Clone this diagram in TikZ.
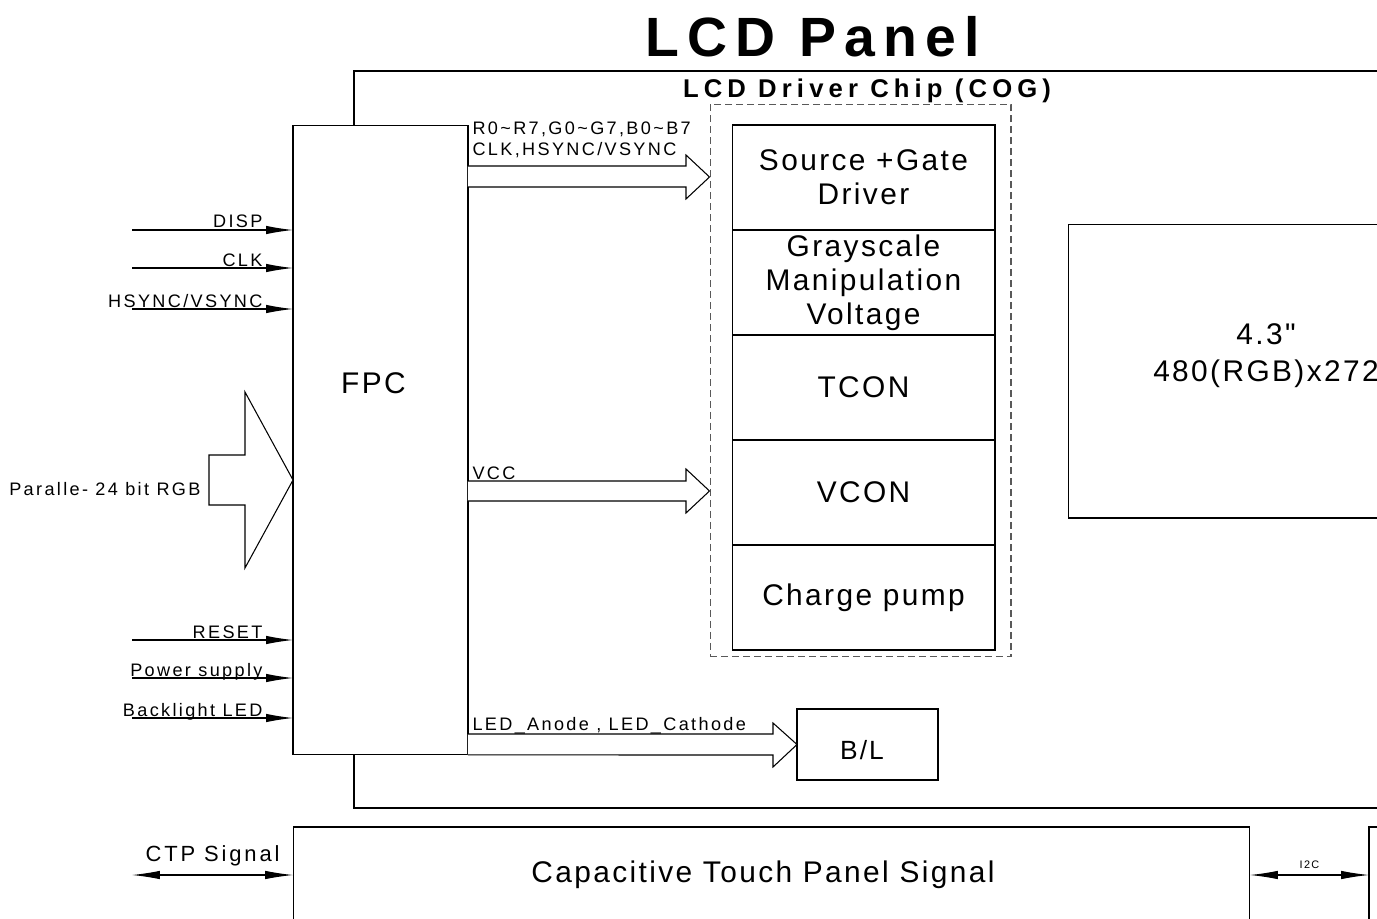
\documentclass[tikz,border=0pt]{standalone}
\usepackage{fontspec}
\usepackage{tikz}
\usetikzlibrary{arrows.meta}
\setmainfont{Liberation Sans}
\newfontfamily\lblfont[LetterSpace=13]{Liberation Sans}
\newfontfamily\boxfont[LetterSpace=8]{Liberation Sans}
\newfontfamily\headfont[LetterSpace=15]{Liberation Sans}
\newfontfamily\chipfont[LetterSpace=20]{Liberation Sans}

\begin{document}
\begin{tikzpicture}
	[x=0.02cm, y=-0.02cm, line width=0.6pt,
	block/.style={draw, fill=white, inner sep=0pt, outer sep=0pt},
	chip row/.style={block, minimum width=5.26cm, minimum height=2.1cm, align=center, font=\boxfont\fontsize{17}{19.3}\selectfont},
	sig/.style={-{Latex[length=0.54cm, width=0.17cm]}},
	dsig/.style={{Latex[length=0.56cm, width=0.17cm]}-{Latex[length=0.56cm, width=0.17cm]}},
	lbl/.style={font=\lblfont\fontsize{10.3}{11.9}\selectfont, inner sep=0pt},
	fat/.style={draw, fill=white, line join=miter}]
	\useasboundingbox (0,0) rectangle (1377,919);

	%title and panel outline
	\node[font=\headfont\bfseries\fontsize{31.5}{36}\selectfont, anchor=base] (title) at (812.5,57) {LCD Panel};
	\draw (1400,71) -- (354,71) -- (354,808) -- (1400,808);
	\node[font=\chipfont\bfseries\fontsize{14.6}{16}\selectfont, anchor=base] (chip title) at (867,98) {LCD Driver Chip (COG)};

	%driver chip
	\node[draw=black!65, dash pattern=on 0.14cm off 0.08cm, minimum width=6.02cm, minimum height=11.06cm, inner sep=0pt] (chip) at (860.5,380.5) {};
	\foreach \y/\t [count=\k] in {177.5/{Source +Gate\\Driver}, 282.5/{Grayscale\\Manipulation\\Voltage}, 387.5/TCON, 492.5/VCON, 597.5/{Charge pump}}{
		\node[chip row] (row\k) at (863.5,\y) {\t};
	}

	%display
	\node[block, minimum width=7.92cm, minimum height=5.88cm] (disp) at (1266,371) {};
	\node[font=\boxfont\fontsize{17}{21}\selectfont, align=center] (disp text) at (1266,356) {4.3"\\480(RGB)x272};

	%FPC
	\node[block, minimum width=3.5cm, minimum height=12.6cm] (fpc) at (380.5,440) {};
	\node[font=\boxfont\fontsize{17}{19}\selectfont] (fpc text) at (373.5,383) {FPC};

	%input signals
	\foreach \y/\t in {230/DISP, 268/CLK, 309/{HSYNC/VSYNC}, 640/RESET, 678/{Power supply}, 718/{Backlight LED}}{
		\coordinate (src\y) at (132,\y);
		\draw[sig] (src\y) -- (src\y -| fpc.west);
		\node[lbl, anchor=base east] (lbl\y) at (263,\y-2) {\t};
	}

	%parallel RGB bus
	\draw[fat] (209,455) -- (245,455) -- (245,392) -- (fpc.west |- 0,480) -- (245,568) -- (245,505) -- (209,505) -- cycle;
	\node[lbl, anchor=base east] (rgb in) at (201,495) {Paralle- 24 bit RGB};

	%buses to the chip
	\draw[fat] (fpc.east |- 0,166) -- (686,166) -- (686,155) -- (chip.west |- 0,177) -- (686,199) -- (686,187) -- (fpc.east |- 0,187);
	\node[lbl, anchor=base west, align=left] (rgb bus) at (472,155) {R0\textasciitilde R7,G0\textasciitilde G7,B0\textasciitilde B7\\CLK,HSYNC/VSYNC};
	\draw[fat] (fpc.east |- 0,481) -- (686,481) -- (686,469) -- (chip.west |- 0,491) -- (686,513) -- (686,501) -- (fpc.east |- 0,501);
	\node[lbl, anchor=base west] (vcc) at (472,479) {VCC};

	%backlight
	\node[block, minimum width=2.82cm, minimum height=1.42cm] (bl) at (867.5,744.5) {};
	\node[font=\boxfont\fontsize{15}{17}\selectfont] (bl text) at (862,750) {B/L};
	\draw[fat] (fpc.east |- 0,734) -- (773,734) -- (773,723) -- (bl.west) -- (773,767) -- (773,755) -- (fpc.south east);
	\node[lbl, anchor=base west] (led) at (472,730) {LED\_Anode , LED\_Cathode};

	%touch panel
	\node[block, minimum width=19.14cm, minimum height=1.92cm] (ctp) at (771.5,875) {};
	\node[font=\boxfont\fontsize{17}{19}\selectfont] (ctp text) at (763,875) {Capacitive Touch Panel Signal};
	\node[block, minimum width=2cm, minimum height=1.92cm] (tp) at (1419,875) {};
	\coordinate (ctp src) at (132,875);
	\draw[dsig] (ctp src) -- (ctp.west) node[midway, above=0.16cm, font=\lblfont\fontsize{12.5}{14}\selectfont, inner sep=0pt] {CTP Signal};
	\draw[dsig] (ctp.east) -- (tp.west) node[midway, above=0.12cm, font=\lblfont\fontsize{6.2}{7}\selectfont, inner sep=0pt] {I2C};
\end{tikzpicture}
\end{document}
